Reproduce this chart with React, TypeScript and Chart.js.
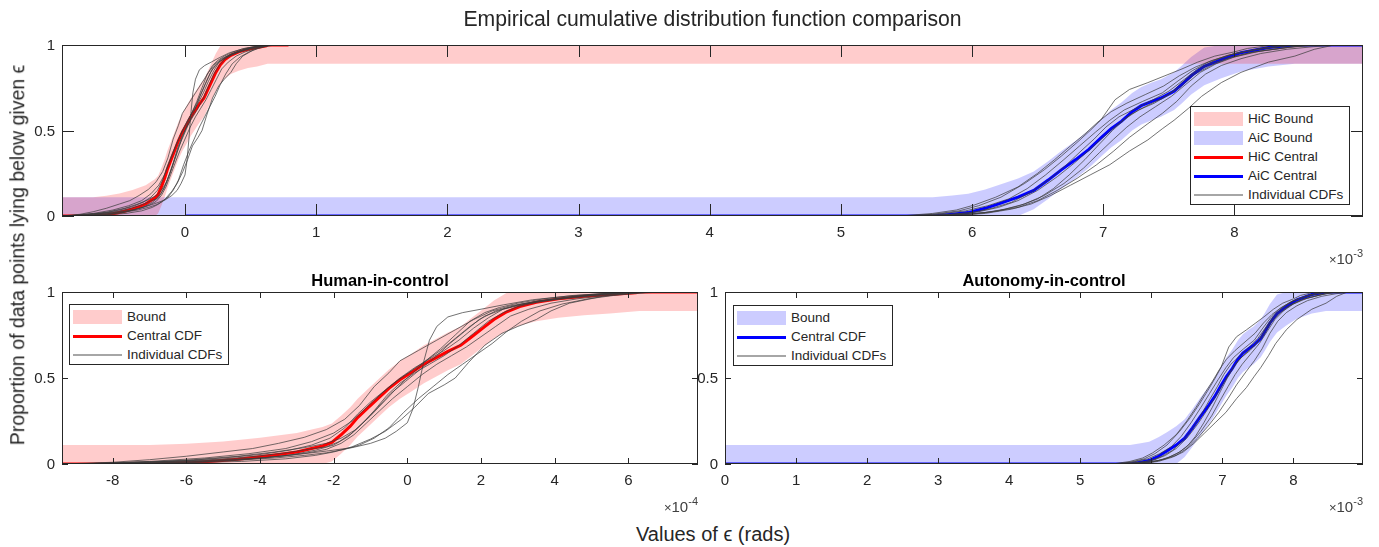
import React, { useEffect, useRef } from 'react';
import { Chart, registerables } from 'chart.js';

Chart.register(...registerables);

type P = [number, number];

// ---------------- DATA ----------------
// Human-in-control (x in units of 1e-4 rad)
const hicCentral: P[] = [
  [-9.375, 0], [-7.0, 0], [-6.6, 0.004], [-5.9, 0.008], [-5.2, 0.018], [-4.6, 0.028], [-4.0, 0.042],
  [-3.5, 0.055], [-3.0, 0.07], [-2.6, 0.09], [-2.3, 0.105], [-2.05, 0.125], [-1.8, 0.17], [-1.55, 0.22],
  [-1.35, 0.27], [-1.1, 0.32], [-0.8, 0.38], [-0.5, 0.44], [-0.2, 0.49], [0.1, 0.53], [0.45, 0.58],
  [0.8, 0.62], [1.1, 0.655], [1.45, 0.69], [1.75, 0.74], [2.05, 0.79], [2.35, 0.84], [2.7, 0.885],
  [3.05, 0.915], [3.5, 0.94], [4.1, 0.96], [4.8, 0.975], [5.5, 0.985], [6.2, 0.995], [6.3, 1.0], [7.89, 1.0],
];
const hicBoundX: number[] = [-9.375, -7, -6, -5, -4, -3, -2.6, -2.3, -2.05, -1.8, -1.55, -1.35, -1.1, -0.8,
  -0.5, -0.2, 0.1, 0.45, 0.8, 1.1, 1.45, 1.75, 2.05, 2.35, 2.7, 3.05, 3.5, 4.1, 4.8, 5.5, 6.3, 7.89, 89.8];
const hicBoundLow: number[] = [0, 0, 0, 0, 0, 0, 0, 0, 0.015, 0.06, 0.11, 0.16, 0.21, 0.27,
  0.33, 0.38, 0.42, 0.47, 0.51, 0.545, 0.58, 0.63, 0.68, 0.73, 0.775, 0.805, 0.83, 0.85, 0.865, 0.875, 0.89, 0.89, 0.89];
const hicBoundHigh: number[] = [0.11, 0.11, 0.118, 0.131, 0.152, 0.18, 0.2, 0.215, 0.235, 0.28, 0.33, 0.38, 0.43, 0.49,
  0.55, 0.6, 0.64, 0.69, 0.73, 0.765, 0.8, 0.85, 0.9, 0.95, 0.995, 1, 1, 1, 1, 1, 1, 1, 1];
const hicIndividual: P[][] = [
  [[-9.2, 0], [-7.5, 0.01], [-5.5, 0.02], [-4, 0.035], [-3, 0.055], [-2.2, 0.075], [-1.5, 0.095], [-1.0, 0.12], [-0.6, 0.15], [-0.3, 0.19], [0.0, 0.24], [0.15, 0.32], [0.3, 0.45], [0.45, 0.6], [0.6, 0.72], [0.8, 0.8], [1.1, 0.855], [1.5, 0.88], [2.0, 0.9], [2.6, 0.925], [3.4, 0.955], [4.3, 0.975], [5.2, 0.99], [6.0, 1.0]],
  [[-8.6, 0], [-6.5, 0.005], [-4.5, 0.015], [-3.3, 0.03], [-2.5, 0.05], [-2.0, 0.07], [-1.5, 0.1], [-1.0, 0.145], [-0.6, 0.19], [-0.16, 0.26], [0.2, 0.33], [0.57, 0.41], [1.0, 0.46], [1.3, 0.5], [1.66, 0.59], [2.1, 0.69], [2.57, 0.76], [3.0, 0.8], [3.5, 0.84], [3.9, 0.89], [4.4, 0.935], [5.3, 0.975], [6.2, 0.995], [7.0, 1.0]],
  [[-9.375, 0], [-8.0, 0.01], [-7.0, 0.025], [-6.0, 0.045], [-5.0, 0.07], [-4.2, 0.09], [-3.5, 0.12], [-2.8, 0.155], [-2.2, 0.2], [-1.7, 0.26], [-1.3, 0.34], [-0.9, 0.45], [-0.5, 0.53], [-0.2, 0.6], [0.3, 0.66], [0.8, 0.72], [1.3, 0.78], [1.8, 0.84], [2.3, 0.89], [2.8, 0.92], [3.5, 0.945], [4.3, 0.965], [5.2, 0.985], [6.0, 1.0]],
  [[-9.0, 0], [-7.2, 0.01], [-6.0, 0.02], [-5.0, 0.035], [-4.0, 0.055], [-3.2, 0.08], [-2.6, 0.11], [-2.1, 0.15], [-1.7, 0.21], [-1.35, 0.29], [-1.0, 0.36], [-0.6, 0.43], [-0.2, 0.5], [0.2, 0.56], [0.6, 0.61], [1.0, 0.66], [1.4, 0.72], [1.8, 0.79], [2.2, 0.85], [2.6, 0.9], [3.1, 0.93], [3.8, 0.955], [4.6, 0.975], [5.4, 0.99], [6.1, 1.0]],
  [[-8.8, 0], [-6.8, 0.008], [-5.4, 0.018], [-4.3, 0.03], [-3.4, 0.045], [-2.7, 0.065], [-2.2, 0.085], [-1.8, 0.12], [-1.45, 0.17], [-1.1, 0.24], [-0.75, 0.31], [-0.4, 0.38], [0.0, 0.45], [0.4, 0.52], [0.8, 0.58], [1.2, 0.63], [1.6, 0.68], [2.0, 0.74], [2.4, 0.8], [2.8, 0.86], [3.3, 0.9], [3.9, 0.935], [4.6, 0.96], [5.4, 0.98], [6.4, 1.0]],
  [[-8.3, 0], [-6.2, 0.01], [-4.8, 0.02], [-3.6, 0.035], [-2.8, 0.05], [-2.2, 0.065], [-1.7, 0.085], [-1.3, 0.11], [-0.9, 0.15], [-0.5, 0.21], [-0.1, 0.3], [0.3, 0.38], [0.7, 0.45], [1.1, 0.52], [1.5, 0.58], [1.9, 0.64], [2.3, 0.7], [2.7, 0.77], [3.1, 0.83], [3.6, 0.89], [4.2, 0.93], [4.9, 0.96], [5.6, 0.98], [6.6, 1.0]],
  [[-9.1, 0], [-7.0, 0.012], [-5.8, 0.025], [-4.6, 0.045], [-3.6, 0.07], [-2.8, 0.095], [-2.2, 0.12], [-1.8, 0.15], [-1.4, 0.2], [-1.0, 0.28], [-0.6, 0.37], [-0.25, 0.45], [0.1, 0.52], [0.5, 0.6], [0.9, 0.67], [1.3, 0.75], [1.7, 0.83], [2.1, 0.88], [2.5, 0.91], [3.0, 0.935], [3.7, 0.96], [4.5, 0.98], [5.3, 0.99], [5.9, 1.0]],
  [[-8.5, 0], [-6.0, 0.008], [-4.8, 0.02], [-3.9, 0.035], [-3.1, 0.055], [-2.5, 0.08], [-2.0, 0.11], [-1.6, 0.16], [-1.25, 0.23], [-0.9, 0.31], [-0.55, 0.4], [-0.2, 0.47], [0.2, 0.53], [0.6, 0.58], [1.0, 0.63], [1.4, 0.69], [1.8, 0.76], [2.2, 0.83], [2.6, 0.88], [3.0, 0.915], [3.6, 0.945], [4.4, 0.97], [5.2, 0.985], [6.2, 1.0]],
  [[-9.375, 0], [-7.6, 0.006], [-6.3, 0.015], [-5.1, 0.028], [-4.1, 0.045], [-3.3, 0.065], [-2.7, 0.085], [-2.2, 0.1], [-1.85, 0.13], [-1.5, 0.18], [-1.15, 0.25], [-0.8, 0.33], [-0.45, 0.41], [-0.05, 0.48], [0.35, 0.55], [0.75, 0.62], [1.15, 0.7], [1.55, 0.77], [1.95, 0.84], [2.4, 0.89], [2.9, 0.92], [3.6, 0.95], [4.6, 0.975], [5.6, 0.99], [6.6, 1.0]],
  [[-8.9, 0], [-7.0, 0.015], [-5.5, 0.035], [-4.3, 0.06], [-3.3, 0.09], [-2.6, 0.13], [-2.0, 0.18], [-1.5, 0.25], [-1.1, 0.33], [-0.7, 0.41], [-0.3, 0.48], [0.1, 0.54], [0.5, 0.6], [0.9, 0.66], [1.3, 0.73], [1.7, 0.8], [2.1, 0.86], [2.6, 0.9], [3.2, 0.93], [4.0, 0.955], [4.9, 0.975], [5.8, 0.99], [7.0, 1.0]],
];

// Autonomy-in-control (x in units of 1e-3 rad)
const aicCentral: P[] = [
  [0, 0], [5.7, 0], [5.85, 0.01], [5.97, 0.02], [6.1, 0.045], [6.22, 0.075], [6.35, 0.11], [6.47, 0.15],
  [6.58, 0.21], [6.68, 0.27], [6.79, 0.33], [6.89, 0.39], [6.98, 0.455], [7.06, 0.51], [7.14, 0.555],
  [7.22, 0.61], [7.29, 0.645], [7.37, 0.67], [7.44, 0.69], [7.54, 0.73], [7.6, 0.77], [7.67, 0.82],
  [7.77, 0.875], [7.9, 0.915], [8.05, 0.955], [8.26, 0.985], [8.46, 1.0], [8.98, 1.0],
];
const aicBoundX: number[] = [-0.9375, 5.7, 5.85, 5.97, 6.1, 6.22, 6.35, 6.47, 6.58, 6.68, 6.79, 6.89, 6.98, 7.06,
  7.14, 7.22, 7.29, 7.37, 7.44, 7.54, 7.6, 7.67, 7.77, 7.9, 8.05, 8.26, 8.46, 8.98];
const aicBoundLow: number[] = [0, 0, 0, 0, 0, 0, 0, 0.04, 0.1, 0.16, 0.22, 0.28, 0.345, 0.4,
  0.445, 0.5, 0.535, 0.56, 0.58, 0.62, 0.66, 0.71, 0.765, 0.805, 0.845, 0.875, 0.89, 0.89];
const aicBoundHigh: number[] = [0.11, 0.11, 0.12, 0.13, 0.155, 0.185, 0.22, 0.26, 0.32, 0.38, 0.44, 0.5, 0.565, 0.62,
  0.665, 0.72, 0.755, 0.78, 0.8, 0.84, 0.88, 0.93, 0.985, 1, 1, 1, 1, 1];
const aicIndividual: P[][] = [
  [[5.6, 0], [5.9, 0.005], [6.1, 0.015], [6.3, 0.04], [6.45, 0.07], [6.6, 0.12], [6.75, 0.18], [6.9, 0.24], [7.05, 0.3], [7.2, 0.38], [7.34, 0.445], [7.45, 0.51], [7.54, 0.56], [7.65, 0.63], [7.75, 0.7], [7.9, 0.78], [8.05, 0.84], [8.26, 0.9], [8.46, 0.935], [8.61, 0.975], [8.76, 1.0]],
  [[5.45, 0], [5.7, 0.01], [5.9, 0.03], [6.05, 0.06], [6.22, 0.11], [6.4, 0.19], [6.55, 0.27], [6.68, 0.35], [6.8, 0.43], [6.9, 0.5], [6.98, 0.56], [7.09, 0.68], [7.2, 0.74], [7.34, 0.78], [7.47, 0.82], [7.6, 0.86], [7.72, 0.9], [7.85, 0.935], [8.0, 0.96], [8.1, 0.98], [8.3, 1.0]],
  [[5.5, 0], [5.8, 0.008], [6.0, 0.02], [6.15, 0.045], [6.3, 0.08], [6.45, 0.14], [6.6, 0.22], [6.72, 0.3], [6.83, 0.38], [6.93, 0.45], [7.02, 0.52], [7.12, 0.58], [7.25, 0.63], [7.38, 0.68], [7.5, 0.73], [7.62, 0.8], [7.72, 0.86], [7.85, 0.91], [8.0, 0.95], [8.2, 0.98], [8.4, 1.0]],
  [[5.55, 0], [5.85, 0.01], [6.05, 0.025], [6.2, 0.05], [6.35, 0.09], [6.5, 0.15], [6.65, 0.23], [6.78, 0.31], [6.9, 0.39], [7.0, 0.46], [7.1, 0.53], [7.2, 0.59], [7.32, 0.64], [7.45, 0.69], [7.58, 0.75], [7.7, 0.83], [7.82, 0.88], [7.95, 0.92], [8.12, 0.955], [8.35, 0.98], [8.55, 1.0]],
  [[5.65, 0], [5.95, 0.01], [6.15, 0.025], [6.35, 0.05], [6.5, 0.09], [6.65, 0.15], [6.8, 0.22], [6.95, 0.3], [7.08, 0.38], [7.2, 0.46], [7.34, 0.54], [7.45, 0.6], [7.56, 0.67], [7.67, 0.76], [7.78, 0.83], [7.9, 0.88], [8.05, 0.92], [8.2, 0.95], [8.4, 0.975], [8.6, 0.99], [8.8, 1.0]],
  [[5.5, 0], [5.75, 0.012], [5.95, 0.03], [6.12, 0.06], [6.28, 0.1], [6.42, 0.16], [6.56, 0.24], [6.7, 0.33], [6.82, 0.41], [6.94, 0.49], [7.05, 0.56], [7.16, 0.62], [7.3, 0.67], [7.45, 0.72], [7.57, 0.79], [7.68, 0.85], [7.8, 0.9], [7.95, 0.94], [8.15, 0.97], [8.35, 0.99], [8.5, 1.0]],
  [[5.6, 0], [5.9, 0.008], [6.1, 0.02], [6.25, 0.04], [6.4, 0.07], [6.55, 0.12], [6.7, 0.19], [6.85, 0.28], [6.97, 0.37], [7.08, 0.45], [7.18, 0.52], [7.28, 0.58], [7.4, 0.64], [7.52, 0.7], [7.63, 0.77], [7.74, 0.84], [7.86, 0.89], [8.0, 0.93], [8.2, 0.965], [8.45, 0.99], [8.7, 1.0]],
  [[5.45, 0], [5.7, 0.015], [5.88, 0.035], [6.02, 0.065], [6.18, 0.11], [6.35, 0.17], [6.5, 0.25], [6.63, 0.33], [6.75, 0.41], [6.86, 0.48], [6.96, 0.55], [7.06, 0.61], [7.18, 0.66], [7.32, 0.71], [7.46, 0.76], [7.58, 0.82], [7.7, 0.87], [7.83, 0.91], [8.0, 0.95], [8.2, 0.98], [8.45, 1.0]],
  [[5.7, 0], [6.0, 0.01], [6.2, 0.03], [6.36, 0.06], [6.5, 0.1], [6.62, 0.16], [6.74, 0.24], [6.86, 0.33], [6.97, 0.42], [7.07, 0.5], [7.17, 0.57], [7.27, 0.62], [7.39, 0.66], [7.5, 0.71], [7.6, 0.78], [7.7, 0.84], [7.82, 0.89], [7.97, 0.93], [8.15, 0.96], [8.4, 0.985], [8.6, 1.0]],
];

// Axes
const topXTicks: number[] = [0, 1, 2, 3, 4, 5, 6, 7, 8];
const hicXTicks: number[] = [-8, -6, -4, -2, 0, 2, 4, 6];
const aicXTicks: number[] = [0, 1, 2, 3, 4, 5, 6, 7, 8];
const yTicks: number[] = [0, 0.5, 1];
const topXRange: [number, number] = [-0.9375, 8.98];
const hicXRange: [number, number] = [-9.375, 7.89];
const aicXRange: [number, number] = [0, 8.98];
const HIC_TO_TOP = 0.1; // 1e-4 units -> 1e-3 units

// ---------------- STYLE ----------------
const FONT = "'Liberation Sans', Arial, Helvetica, sans-serif";
const INK = '#262626';
const RED = '#ff0000';
const BLUE = '#0000ff';
const RED_BAND = 'rgba(255,0,0,0.2)';
const BLUE_BAND = 'rgba(0,0,255,0.2)';
const GREY = 'rgba(60,60,60,0.72)';

const boxTicks = {
  id: 'boxTicks',
  afterDatasetsDraw(chart: any, _args: any, opts: any) {
    const { ctx, chartArea: a, scales } = chart;
    const x = scales.x, y = scales.y;
    const L = opts.len || 6;
    ctx.save();
    ctx.strokeStyle = INK;
    ctx.lineWidth = 1;
    ctx.beginPath();
    x.ticks.forEach((t: any) => {
      const px = Math.round(x.getPixelForValue(t.value)) + 0.5;
      ctx.moveTo(px, a.bottom); ctx.lineTo(px, a.bottom - L);
      ctx.moveTo(px, a.top); ctx.lineTo(px, a.top + L);
    });
    y.ticks.forEach((t: any) => {
      const py = Math.round(y.getPixelForValue(t.value)) + 0.5;
      ctx.moveTo(a.left, py); ctx.lineTo(a.left + L, py);
      ctx.moveTo(a.right, py); ctx.lineTo(a.right - L, py);
    });
    ctx.stroke();
    ctx.strokeRect(Math.round(a.left) + 0.5, Math.round(a.top) + 0.5, Math.round(a.right - a.left) - 1, Math.round(a.bottom - a.top) - 1);
    // y tick labels, right aligned against the axis
    ctx.fillStyle = INK;
    ctx.font = `15px ${FONT}`;
    ctx.textAlign = 'right';
    ctx.textBaseline = 'middle';
    y.ticks.forEach((t: any) => {
      ctx.fillText(String(t.value), a.left - 7, y.getPixelForValue(t.value) + 1);
    });
    ctx.restore();
  },
};

function pts(p: P[], k: number) {
  return p.map(([x, y]) => ({ x: x * k, y }));
}

function band(xs: number[], lo: number[], hi: number[], k: number, color: string) {
  return [
    { data: xs.map((x, i) => ({ x: x * k, y: lo[i] })), borderColor: 'rgba(0,0,0,0)', borderWidth: 0, pointRadius: 0, fill: false, order: 3 },
    { data: xs.map((x, i) => ({ x: x * k, y: hi[i] })), borderColor: 'rgba(0,0,0,0)', borderWidth: 0, pointRadius: 0, fill: '-1', backgroundColor: color, order: 3 },
  ];
}

function central(p: P[], k: number, color: string) {
  return { data: pts(p, k), borderColor: color, borderWidth: 3, pointRadius: 0, fill: false, order: 2 };
}

function individuals(list: P[][], k: number) {
  return list.map((p) => ({ data: pts(p, k), borderColor: GREY, borderWidth: 1, pointRadius: 0, fill: false, order: 1 }));
}

interface Geo { cw: number; ch: number; padTop: number; padRight: number; yW: number; xH: number; tickLen: number; }

function makeConfig(datasets: any[], range: [number, number], xTicks: number[], g: Geo): any {
  const tickFont = { size: 15, family: FONT };
  return {
    type: 'line',
    data: { datasets },
    options: {
      animation: false,
      responsive: false,
      maintainAspectRatio: false,
      layout: { padding: { left: 0, top: g.padTop, right: g.padRight, bottom: 0 } },
      elements: { line: { tension: 0 }, point: { radius: 0 } },
      plugins: { legend: { display: false }, tooltip: { enabled: false }, boxTicks: { len: g.tickLen } },
      scales: {
        x: {
          type: 'linear', min: range[0], max: range[1],
          grid: { display: false }, border: { display: false },
          ticks: { color: INK, font: tickFont, padding: 0, maxRotation: 0, autoSkip: false, callback: (v: any) => String(v) },
          afterBuildTicks: (s: any) => { s.ticks = xTicks.map((v) => ({ value: v })); },
          afterFit: (s: any) => { s.height = g.xH; },
        },
        y: {
          type: 'linear', min: 0, max: 1,
          grid: { display: false }, border: { display: false },
          ticks: { display: false },
          afterBuildTicks: (s: any) => { s.ticks = yTicks.map((v) => ({ value: v })); },
          afterFit: (s: any) => { s.width = g.yW; },
        },
      },
    },
    plugins: [boxTicks],
  };
}

function Panel(props: { left: number; top: number; geo: Geo; build: () => any }) {
  const ref = useRef<HTMLCanvasElement>(null);
  useEffect(() => {
    const chart = new Chart(ref.current as HTMLCanvasElement, props.build());
    return () => chart.destroy();
  }, []);
  const { left, top, geo } = props;
  return (
    <canvas ref={ref} width={geo.cw} height={geo.ch}
      style={{ position: 'absolute', left, top, width: geo.cw, height: geo.ch }} />
  );
}

type LegendItem = { kind: 'band' | 'line'; color: string; width?: number; label: string };

function Legend(props: { left: number; top: number; width: number; height: number; items: LegendItem[] }) {
  const { left, top, width, height, items } = props;
  return (
    <div style={{ position: 'absolute', left, top, width, height, boxSizing: 'border-box', border: `1px solid ${INK}`, background: '#fff' }}>
      {items.map((it, i) => {
        const cy = 12 + 19 * i;
        return (
          <React.Fragment key={i}>
            {it.kind === 'band' ? (
              <div style={{ position: 'absolute', left: 3, width: 49, top: cy - 7, height: 14, background: it.color }} />
            ) : (
              <div style={{ position: 'absolute', left: 3, width: 49, top: cy - (it.width || 1) / 2, height: it.width || 1, background: it.color }} />
            )}
            <div style={{ position: 'absolute', left: 57, top: cy, transform: 'translateY(-50%)', fontSize: 13.5, lineHeight: 1, whiteSpace: 'nowrap', color: INK, fontFamily: FONT }}>
              {it.label}
            </div>
          </React.Fragment>
        );
      })}
    </div>
  );
}

function Exponent(props: { right: number; cy: number; exp: string }) {
  return (
    <div style={{ position: 'absolute', left: props.right - 80, width: 80, top: props.cy, transform: 'translateY(-50%)', textAlign: 'right', fontSize: 15, lineHeight: 1, color: '#404040', fontFamily: FONT, whiteSpace: 'nowrap' }}>
      <span style={{ fontSize: 13 }}>×</span>10<span style={{ fontSize: 11, position: 'relative', top: -7 }}>{props.exp}</span>
    </div>
  );
}

const topGeo: Geo = { cw: 1379, ch: 225, padTop: 20, padRight: 16, yW: 62, xH: 34, tickLen: 12 };
const blGeo: Geo = { cw: 710, ch: 230, padTop: 22, padRight: 12, yW: 62, xH: 36, tickLen: 6 };
const brGeo: Geo = { cw: 716, ch: 230, padTop: 22, padRight: 16, yW: 62, xH: 36, tickLen: 6 };

export default function App() {
  const buildTop = () =>
    makeConfig(
      [
        ...band(hicBoundX, hicBoundLow, hicBoundHigh, HIC_TO_TOP, RED_BAND),
        ...band(aicBoundX, aicBoundLow, aicBoundHigh, 1, BLUE_BAND),
        central(hicCentral, HIC_TO_TOP, RED),
        central(aicCentral, 1, BLUE),
        ...individuals(hicIndividual, HIC_TO_TOP),
        ...individuals(aicIndividual, 1),
      ],
      topXRange, topXTicks, topGeo);
  const buildHic = () =>
    makeConfig(
      [...band(hicBoundX, hicBoundLow, hicBoundHigh, 1, RED_BAND), central(hicCentral, 1, RED), ...individuals(hicIndividual, 1)],
      hicXRange, hicXTicks, blGeo);
  const buildAic = () =>
    makeConfig(
      [...band(aicBoundX, aicBoundLow, aicBoundHigh, 1, BLUE_BAND), central(aicCentral, 1, BLUE), ...individuals(aicIndividual, 1)],
      aicXRange, aicXTicks, brGeo);

  const text = (s: string, left: number, top: number, size: number, extra: any = {}) => (
    <div style={{ position: 'absolute', left, top, transform: 'translate(-50%,-50%)', fontSize: size, lineHeight: 1, whiteSpace: 'nowrap', color: INK, fontFamily: FONT, ...extra }}>{s}</div>
  );

  return (
    <div style={{ position: 'fixed', left: 0, top: 0, width: 1379, height: 547, background: '#fff', overflow: 'hidden', fontFamily: FONT }}>
      <Panel left={0} top={25} geo={topGeo} build={buildTop} />
      <Panel left={0} top={270} geo={blGeo} build={buildHic} />
      <Panel left={663} top={270} geo={brGeo} build={buildAic} />

      {text('Empirical cumulative distribution function comparison', 712.5, 18.5, 21.2)}
      {text('Human-in-control', 380, 280, 16.5, { fontWeight: 'bold', color: '#000' })}
      {text('Autonomy-in-control', 1044, 280, 16.5, { fontWeight: 'bold', color: '#000' })}
      {text('Values of \u03F5 (rads)', 713, 534, 20)}
      {text('Proportion of data points lying below given \u03F5', 18, 254.5, 19.5, { transform: 'translate(-50%,-50%) rotate(-90deg)' })}

      <Exponent right={1363} cy={258} exp="-3" />
      <Exponent right={698} cy={506} exp="-4" />
      <Exponent right={1363} cy={506} exp="-3" />

      <Legend left={1190} top={106} width={160} height={99} items={[
        { kind: 'band', color: 'rgb(255,204,204)', label: 'HiC Bound' },
        { kind: 'band', color: 'rgb(204,204,255)', label: 'AiC Bound' },
        { kind: 'line', color: RED, width: 3, label: 'HiC Central' },
        { kind: 'line', color: BLUE, width: 3, label: 'AiC Central' },
        { kind: 'line', color: '#a6a6a6', width: 1.5, label: 'Individual CDFs' },
      ]} />
      <Legend left={69} top={304} width={160} height={61} items={[
        { kind: 'band', color: 'rgb(255,204,204)', label: 'Bound' },
        { kind: 'line', color: RED, width: 3, label: 'Central CDF' },
        { kind: 'line', color: '#a6a6a6', width: 1.5, label: 'Individual CDFs' },
      ]} />
      <Legend left={733} top={305} width={160} height={61} items={[
        { kind: 'band', color: 'rgb(204,204,255)', label: 'Bound' },
        { kind: 'line', color: BLUE, width: 3, label: 'Central CDF' },
        { kind: 'line', color: '#a6a6a6', width: 1.5, label: 'Individual CDFs' },
      ]} />
    </div>
  );
}
